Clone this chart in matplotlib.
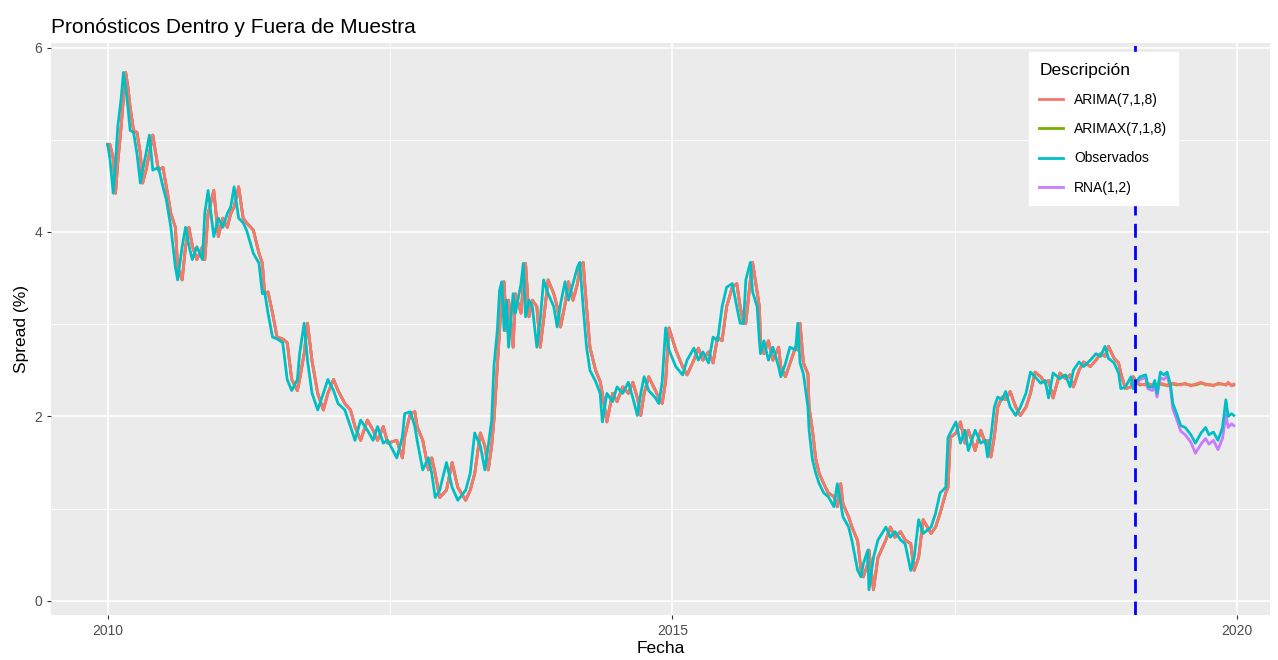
import numpy as np
import matplotlib
matplotlib.use("Agg")
import matplotlib.pyplot as plt
from matplotlib.lines import Line2D

plt.rcParams['font.family'] = ['Liberation Sans', 'DejaVu Sans']

# Serie observada del spread (fecha en años decimales, valor en %)
observados = [
    (2010.00, 4.95), (2010.02, 4.80), (2010.05, 4.42), (2010.07, 4.75), (2010.09, 5.14),
    (2010.12, 5.45), (2010.14, 5.73), (2010.16, 5.57), (2010.18, 5.35), (2010.20, 5.10),
    (2010.23, 5.08), (2010.26, 4.85), (2010.29, 4.53), (2010.31, 4.67), (2010.34, 4.85),
    (2010.37, 5.05), (2010.40, 4.67), (2010.45, 4.70), (2010.49, 4.49), (2010.52, 4.35),
    (2010.54, 4.20), (2010.56, 4.05), (2010.60, 3.62), (2010.62, 3.48), (2010.66, 3.84),
    (2010.69, 4.05), (2010.72, 3.85), (2010.75, 3.70), (2010.79, 3.84), (2010.84, 3.70),
    (2010.86, 4.20), (2010.89, 4.45), (2010.94, 3.95), (2010.98, 4.15), (2011.02, 4.05),
    (2011.06, 4.20), (2011.09, 4.27), (2011.12, 4.49), (2011.16, 4.15), (2011.20, 4.10),
    (2011.23, 4.02), (2011.29, 3.77), (2011.34, 3.66), (2011.37, 3.33), (2011.39, 3.35),
    (2011.42, 3.12), (2011.46, 2.86), (2011.50, 2.84), (2011.55, 2.80), (2011.59, 2.40),
    (2011.63, 2.28), (2011.68, 2.40), (2011.70, 2.68), (2011.74, 3.01), (2011.77, 2.60),
    (2011.81, 2.25), (2011.86, 2.07), (2011.91, 2.25), (2011.95, 2.40), (2012.00, 2.28),
    (2012.04, 2.14), (2012.10, 2.07), (2012.15, 1.89), (2012.19, 1.74), (2012.24, 1.96),
    (2012.30, 1.85), (2012.35, 1.74), (2012.39, 1.89), (2012.44, 1.71), (2012.48, 1.74),
    (2012.56, 1.55), (2012.61, 1.78), (2012.63, 2.03), (2012.68, 2.05), (2012.72, 1.89),
    (2012.74, 1.74), (2012.79, 1.42), (2012.84, 1.55), (2012.87, 1.38), (2012.90, 1.12),
    (2012.94, 1.20), (2013.00, 1.50), (2013.05, 1.23), (2013.10, 1.09), (2013.17, 1.20),
    (2013.21, 1.38), (2013.25, 1.82), (2013.30, 1.68), (2013.34, 1.42), (2013.37, 1.68),
    (2013.40, 1.96), (2013.42, 2.54), (2013.45, 2.93), (2013.47, 3.37), (2013.49, 3.46),
    (2013.51, 2.93), (2013.53, 3.26), (2013.55, 2.75), (2013.59, 3.33), (2013.61, 3.12),
    (2013.66, 3.44), (2013.68, 3.66), (2013.70, 3.08), (2013.73, 3.26), (2013.76, 3.19),
    (2013.80, 2.75), (2013.83, 3.05), (2013.86, 3.48), (2013.90, 3.33), (2013.95, 3.19),
    (2013.98, 2.97), (2014.01, 3.22), (2014.05, 3.46), (2014.08, 3.26), (2014.12, 3.44),
    (2014.16, 3.62), (2014.18, 3.67), (2014.21, 3.19), (2014.24, 2.75), (2014.27, 2.50),
    (2014.32, 2.38), (2014.36, 2.25), (2014.38, 1.94), (2014.42, 2.25), (2014.47, 2.16),
    (2014.51, 2.32), (2014.56, 2.25), (2014.61, 2.37), (2014.65, 2.20), (2014.69, 2.01),
    (2014.72, 2.25), (2014.75, 2.43), (2014.79, 2.28), (2014.85, 2.20), (2014.88, 2.14),
    (2014.91, 2.38), (2014.94, 2.96), (2014.97, 2.72), (2015.03, 2.54), (2015.09, 2.45),
    (2015.13, 2.61), (2015.19, 2.74), (2015.23, 2.61), (2015.27, 2.70), (2015.32, 2.58),
    (2015.36, 2.86), (2015.40, 2.82), (2015.44, 3.19), (2015.48, 3.40), (2015.53, 3.44),
    (2015.57, 3.19), (2015.60, 3.01), (2015.63, 3.01), (2015.65, 3.48), (2015.69, 3.67),
    (2015.71, 3.35), (2015.75, 3.19), (2015.77, 2.82), (2015.78, 2.68), (2015.81, 2.82),
    (2015.85, 2.61), (2015.89, 2.75), (2015.94, 2.54), (2015.96, 2.43), (2016.00, 2.57),
    (2016.04, 2.75), (2016.09, 2.72), (2016.11, 3.01), (2016.13, 2.58), (2016.16, 2.46),
    (2016.20, 2.10), (2016.21, 1.85), (2016.24, 1.53), (2016.27, 1.38), (2016.30, 1.27),
    (2016.34, 1.17), (2016.38, 1.13), (2016.43, 1.02), (2016.46, 1.27), (2016.49, 1.05),
    (2016.51, 0.91), (2016.56, 0.80), (2016.59, 0.65), (2016.64, 0.33), (2016.67, 0.26),
    (2016.69, 0.40), (2016.73, 0.55), (2016.74, 0.12), (2016.78, 0.47), (2016.82, 0.66),
    (2016.89, 0.80), (2016.93, 0.69), (2016.97, 0.75), (2017.02, 0.66), (2017.06, 0.62),
    (2017.11, 0.33), (2017.14, 0.47), (2017.18, 0.88), (2017.22, 0.73), (2017.29, 0.80),
    (2017.33, 0.95), (2017.37, 1.17), (2017.42, 1.23), (2017.44, 1.77), (2017.46, 1.82),
    (2017.51, 1.94), (2017.55, 1.71), (2017.59, 1.85), (2017.62, 1.63), (2017.68, 1.85),
    (2017.73, 1.71), (2017.77, 1.74), (2017.79, 1.56), (2017.82, 1.78), (2017.85, 2.10),
    (2017.88, 2.21), (2017.92, 2.18), (2017.95, 2.27), (2017.99, 2.10), (2018.04, 2.01),
    (2018.08, 2.10), (2018.13, 2.25), (2018.17, 2.48), (2018.21, 2.43), (2018.26, 2.36),
    (2018.30, 2.39), (2018.33, 2.20), (2018.37, 2.47), (2018.43, 2.41), (2018.48, 2.45),
    (2018.52, 2.32), (2018.55, 2.50), (2018.60, 2.59), (2018.64, 2.54), (2018.70, 2.61),
    (2018.75, 2.68), (2018.79, 2.65), (2018.83, 2.76), (2018.86, 2.63), (2018.91, 2.58),
    (2018.95, 2.47), (2018.97, 2.30), (2019.01, 2.32), (2019.06, 2.43), (2019.08, 2.30),
    # fuera de muestra
    (2019.11, 2.38), (2019.14, 2.43), (2019.19, 2.45), (2019.21, 2.32), (2019.25, 2.32),
    (2019.27, 2.39), (2019.29, 2.25), (2019.32, 2.48), (2019.35, 2.45), (2019.38, 2.48),
    (2019.41, 2.34), (2019.43, 2.14), (2019.47, 2.01), (2019.50, 1.90), (2019.54, 1.88),
    (2019.59, 1.80), (2019.63, 1.71), (2019.68, 1.82), (2019.72, 1.88), (2019.75, 1.80),
    (2019.79, 1.83), (2019.83, 1.74), (2019.87, 1.88), (2019.90, 2.18), (2019.92, 2.00),
    (2019.95, 2.03), (2019.97, 2.01),
]

inicio_pronostico = 2019.095

# Pronosticos fuera de muestra (mismas fechas que los observados desde inicio_pronostico)
arima_fuera = [2.37, 2.35, 2.34, 2.36, 2.33, 2.35, 2.34, 2.36, 2.35, 2.33, 2.34, 2.36, 2.35, 2.34,
               2.36, 2.33, 2.35, 2.37, 2.34, 2.35, 2.33, 2.36, 2.35, 2.34, 2.37, 2.33, 2.35]
arimax_fuera = [2.36, 2.34, 2.35, 2.35, 2.34, 2.34, 2.35, 2.35, 2.34, 2.34, 2.35, 2.35, 2.34, 2.35,
                2.35, 2.34, 2.34, 2.36, 2.35, 2.34, 2.34, 2.35, 2.35, 2.34, 2.36, 2.34, 2.34]
rna_fuera = [2.36, 2.40, 2.42, 2.30, 2.28, 2.34, 2.21, 2.42, 2.40, 2.44, 2.30, 2.08, 1.95, 1.84,
             1.80, 1.72, 1.60, 1.70, 1.76, 1.70, 1.74, 1.64, 1.76, 2.02, 1.88, 1.92, 1.90]

etiquetas = ['ARIMA(7,1,8)', 'ARIMAX(7,1,8)', 'Observados', 'RNA(1,2)']
colores = ['#F8766D', '#7CAE00', '#00BFC4', '#C77CFF']

fecha = np.array([p[0] for p in observados])
obs = np.array([p[1] for p in observados])
dentro = fecha < inicio_pronostico

# Ajuste dentro de muestra: pronostico un paso adelante (valor observado previo)
previo = np.r_[obs[0], obs[:-1]][dentro]
arima = np.r_[previo, arima_fuera]
arimax = np.r_[previo, arimax_fuera]
rna = np.r_[previo, rna_fuera]

fig = plt.figure(figsize=(12.78, 6.6), dpi=100)
ax = fig.add_axes([0.040, 0.068, 0.9537, 0.867])
ax.set_facecolor('#EBEBEB')

lw = 2.0
ax.plot(fecha, rna, color=colores[3], lw=lw, zorder=2)
ax.plot(fecha, arimax, color=colores[1], lw=lw, zorder=3)
ax.plot(fecha, arima, color=colores[0], lw=lw, zorder=4)
ax.plot(fecha, obs, color=colores[2], lw=lw, zorder=5)
ax.axvline(inicio_pronostico, color='#0000FF', lw=2, linestyle=(0, (5, 3)), zorder=6)

ax.set_xlim(2009.5, 2020.29)
ax.set_ylim(-0.155, 6.05)
ax.set_xticks([2010, 2015, 2020])
ax.set_xticklabels(['2010', '2015', '2020'])
ax.set_xticks([2012.5, 2017.5], minor=True)
ax.set_yticks([0, 2, 4, 6])
ax.set_yticks([1, 3, 5], minor=True)
ax.grid(which='major', color='white', lw=1.1)
ax.grid(which='minor', color='white', lw=0.55)
ax.set_axisbelow(True)
for s in ax.spines.values():
    s.set_visible(False)
ax.tick_params(which='major', length=3, width=0.8, color='#333333',
               labelcolor='#4D4D4D', labelsize=10)
ax.tick_params(which='minor', length=0)

ax.set_xlabel('Fecha', fontsize=12.5, labelpad=2)
ax.set_ylabel('Spread (%)', fontsize=12.5, labelpad=4)
ax.set_title('Pronósticos Dentro y Fuera de Muestra', loc='left', fontsize=15, pad=7)

handles = [Line2D([], [], color=c, lw=2) for c in colores]
leg = ax.legend(handles, etiquetas, title='Descripción', loc='upper left',
                bbox_to_anchor=(0.7965, 0.996), frameon=True, fancybox=False,
                framealpha=1, fontsize=10, title_fontsize=12.5, handlelength=1.7,
                labelspacing=1.1, borderpad=0.75, handletextpad=0.8)
leg.get_frame().set_facecolor('white')
leg.get_frame().set_edgecolor('white')
leg._legend_box.align = 'left'
leg.set_zorder(10)

fig.savefig('out.png', dpi=100)
